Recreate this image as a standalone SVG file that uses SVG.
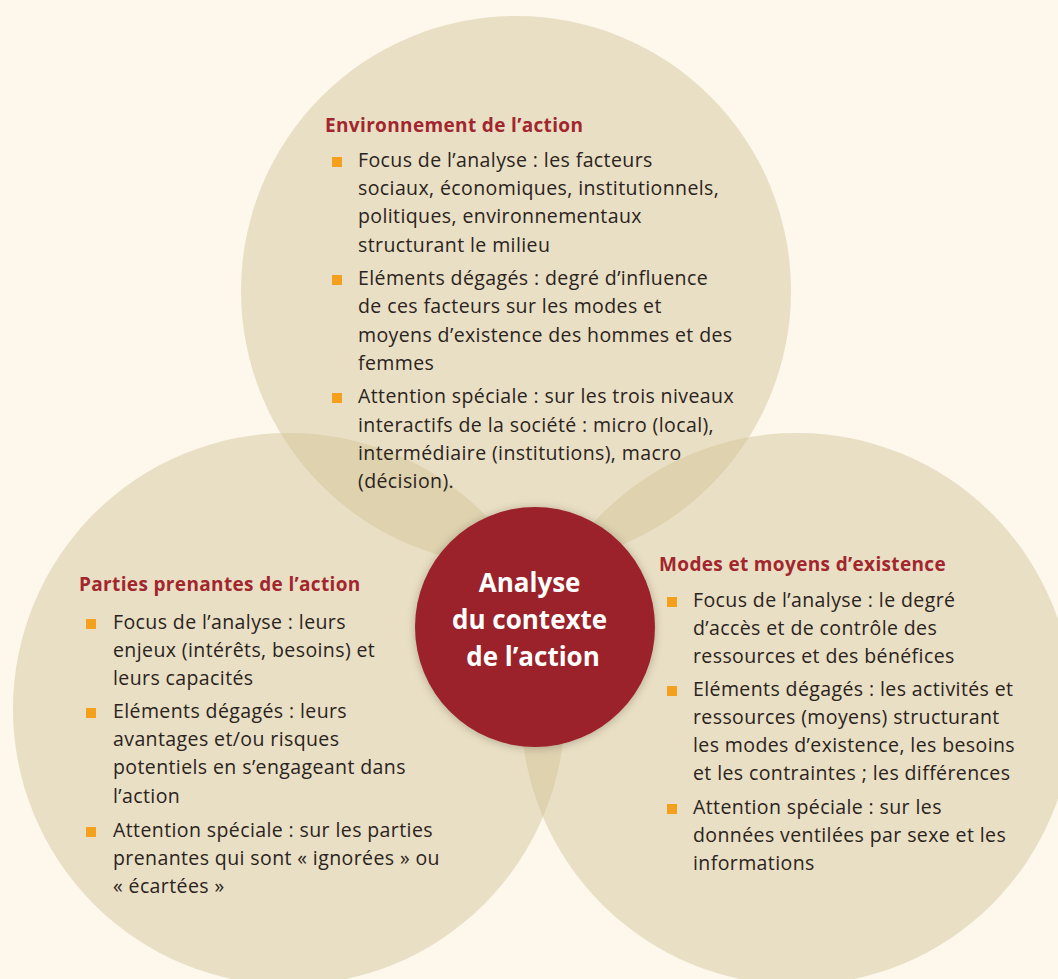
<svg xmlns="http://www.w3.org/2000/svg" width="1058" height="979" viewBox="0 0 1058 979">
<defs>
<style>
.bg{fill:#fdf7ec}
.big{fill:#d3c396;fill-opacity:0.47}
.title{font-family:"Open Sans","Liberation Sans",sans-serif;font-weight:700;font-size:19px;letter-spacing:0.35px;fill:#a1262e}
.body{font-family:"Open Sans","Liberation Sans",sans-serif;font-size:19.5px;letter-spacing:0.4px;fill:#2a2320}
.sq{fill:#f5a01c}
.center{font-family:"Open Sans","Liberation Sans",sans-serif;font-weight:700;font-size:26px;fill:#ffffff;text-anchor:middle}
</style>
<filter id="shadow" x="-20%" y="-20%" width="140%" height="140%">
<feGaussianBlur in="SourceAlpha" stdDeviation="5"/>
<feOffset dx="0" dy="1" result="b"/>
<feComponentTransfer><feFuncA type="linear" slope="0.25"/></feComponentTransfer>
<feMerge><feMergeNode/><feMergeNode in="SourceGraphic"/></feMerge>
</filter>
</defs>
<rect class="bg" x="0" y="0" width="1058" height="979"/>
<g id="circles">
<circle id="circle-environnement" class="big" cx="516" cy="291" r="275"/>
<circle id="circle-parties" class="big" cx="289" cy="709" r="276"/>
<circle id="circle-modes" class="big" cx="797" cy="709" r="276"/>
</g>
<g id="connectors"/>
<g id="node-environnement">
<text class="title" x="325" y="132">Environnement de l’action</text>
<rect class="sq" x="332" y="157" width="10" height="10"/>
<rect class="sq" x="332" y="275" width="10" height="10"/>
<rect class="sq" x="332" y="393" width="10" height="10"/>
<text class="body">
<tspan x="358" y="167">Focus de l’analyse : les facteurs</tspan>
<tspan x="358" y="195">sociaux, économiques, institutionnels,</tspan>
<tspan x="358" y="223">politiques, environnementaux</tspan>
<tspan x="358" y="252">structurant le milieu</tspan>
<tspan x="358" y="285">Eléments dégagés : degré d’influence</tspan>
<tspan x="358" y="313">de ces facteurs sur les modes et</tspan>
<tspan x="358" y="342">moyens d’existence des hommes et des</tspan>
<tspan x="358" y="370">femmes</tspan>
<tspan x="358" y="403">Attention spéciale : sur les trois niveaux</tspan>
<tspan x="358" y="432">interactifs de la société : micro (local),</tspan>
<tspan x="358" y="460">intermédiaire (institutions), macro</tspan>
<tspan x="358" y="488">(décision).</tspan>
</text>
</g>
<g id="node-parties">
<text class="title" x="79" y="591">Parties prenantes de l’action</text>
<rect class="sq" x="86" y="619" width="10" height="10"/>
<rect class="sq" x="86" y="708" width="10" height="10"/>
<rect class="sq" x="86" y="827" width="10" height="10"/>
<text class="body">
<tspan x="113" y="629">Focus de l’analyse : leurs</tspan>
<tspan x="113" y="657">enjeux (intérêts, besoins) et</tspan>
<tspan x="113" y="685">leurs capacités</tspan>
<tspan x="113" y="718">Eléments dégagés : leurs</tspan>
<tspan x="113" y="746">avantages et/ou risques</tspan>
<tspan x="113" y="774">potentiels en s’engageant dans</tspan>
<tspan x="113" y="803">l’action</tspan>
<tspan x="113" y="837">Attention spéciale : sur les parties</tspan>
<tspan x="113" y="865">prenantes qui sont « ignorées » ou</tspan>
<tspan x="113" y="893">« écartées »</tspan>
</text>
</g>
<g id="node-modes">
<text class="title" x="659" y="571">Modes et moyens d’existence</text>
<rect class="sq" x="667" y="597" width="10" height="10"/>
<rect class="sq" x="667" y="686" width="10" height="10"/>
<rect class="sq" x="667" y="804" width="10" height="10"/>
<text class="body">
<tspan x="693" y="607">Focus de l’analyse : le degré</tspan>
<tspan x="693" y="635">d’accès et de contrôle des</tspan>
<tspan x="693" y="663">ressources et des bénéfices</tspan>
<tspan x="693" y="696">Eléments dégagés : les activités et</tspan>
<tspan x="693" y="724">ressources (moyens) structurant</tspan>
<tspan x="693" y="752">les modes d’existence, les besoins</tspan>
<tspan x="693" y="780">et les contraintes ; les différences</tspan>
<tspan x="693" y="814">Attention spéciale : sur les</tspan>
<tspan x="693" y="842">données ventilées par sexe et les</tspan>
<tspan x="693" y="870">informations</tspan>
</text>
</g>
<g id="node-centre">
<circle cx="535" cy="627" r="120" fill="#9b2329" filter="url(#shadow)"/>
<text class="center">
<tspan x="533" y="592">Analyse</tspan>
<tspan x="533" y="629">du contexte</tspan>
<tspan x="533" y="666">de l’action</tspan>
</text>
</g>
</svg>
